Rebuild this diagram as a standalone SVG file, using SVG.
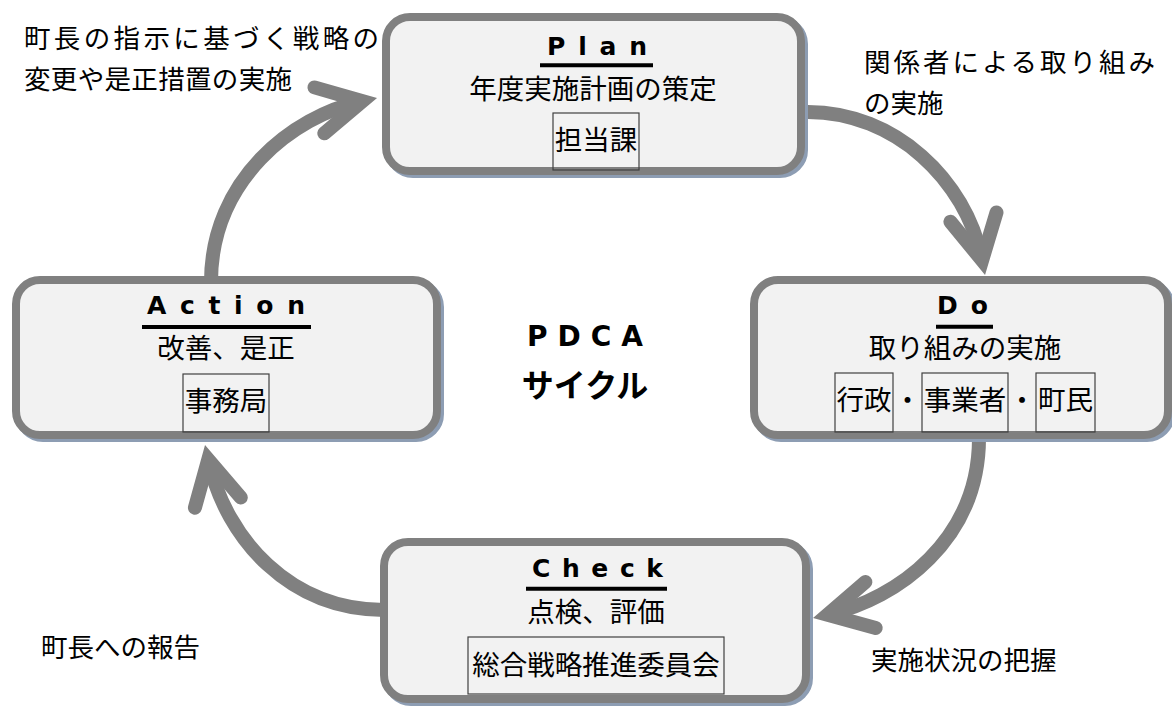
<svg xmlns="http://www.w3.org/2000/svg" width="1172" height="706" viewBox="0 0 1172 706">
<style>
text{font-family:"Noto Sans CJK JP","Liberation Sans",sans-serif;fill:#000;}
.box{fill:#f2f2f2;stroke:#808080;stroke-width:8;}
.shadow{fill:none;stroke:#8d9db3;stroke-width:8;}
.inner{fill:none;stroke:#404040;stroke-width:1.2;}
.title{font-family:"DejaVu Sans","Noto Sans CJK JP",sans-serif;font-size:25px;font-weight:bold;text-anchor:middle;}
.sub{font-size:27.5px;text-anchor:middle;}
.lbl{font-size:26.5px;}
.ul{stroke:#000;stroke-width:4;}
.arrow{fill:none;stroke:#808080;stroke-width:14;marker-end:url(#chev);}
.center{font-size:28px;font-weight:bold;text-anchor:middle;}
.latin{font-family:"DejaVu Sans","Noto Sans CJK JP",sans-serif;}
.big{font-size:32px;}
</style>
<defs>
<marker id="chev" markerUnits="userSpaceOnUse" markerWidth="120" markerHeight="120" refX="0" refY="0" orient="auto" overflow="visible">
<path d="M -43 -23.5 L 1.1 0 L -43 23.5" fill="none" stroke="#808080" stroke-width="14" stroke-linecap="round" stroke-linejoin="miter" stroke-miterlimit="6"/>
</marker>
</defs>
<rect width="1172" height="706" fill="#ffffff"/>
<g id="connectors">
<path class="arrow" d="M 808 112 C 895 112, 966 180, 981.9 259.3"/>
<path class="arrow" d="M 979 438 C 979 540, 897 599, 828.6 614.4"/>
<path class="arrow" d="M 384 610 C 290 610, 226 539, 208.5 460.6"/>
<path class="arrow" d="M 211 282 C 211 180, 293 116, 361.4 101.4"/>
</g>
<g id="plan">
<rect class="shadow" x="389" y="20" width="415" height="154" rx="24"/>
<rect class="box" x="386" y="17" width="415" height="154" rx="24"/>
<text class="title" x="597" y="55" textLength="100" lengthAdjust="spacing">Plan</text>
<line class="ul" x1="540" y1="65.3" x2="653" y2="65.3"/>
<text class="sub" x="593" y="99">年度実施計画の策定</text>
<rect class="inner" x="553" y="113" width="86" height="57"/>
<text class="sub" x="596" y="150">担当課</text>
</g>
<g id="do">
<rect class="shadow" x="757" y="283" width="414" height="155" rx="24"/>
<rect class="box" x="754" y="280" width="414" height="155" rx="24"/>
<text class="title" x="962.5" y="314" textLength="51" lengthAdjust="spacing">Do</text>
<line class="ul" x1="936" y1="326.7" x2="993" y2="326.7"/>
<text class="sub" x="965" y="358">取り組みの実施</text>
<rect class="inner" x="835" y="373" width="58" height="59"/>
<text class="sub" x="864" y="410">行政</text>
<text class="sub" x="907.5" y="410">・</text>
<rect class="inner" x="922" y="373" width="86" height="59"/>
<text class="sub" x="965" y="410">事業者</text>
<text class="sub" x="1022" y="410">・</text>
<rect class="inner" x="1036" y="373" width="59" height="59"/>
<text class="sub" x="1065.5" y="410">町民</text>
</g>
<g id="check">
<rect class="shadow" x="387" y="545" width="422" height="157" rx="24"/>
<rect class="box" x="384" y="542" width="422" height="157" rx="24"/>
<text class="title" x="597.5" y="577" textLength="131" lengthAdjust="spacing">Check</text>
<line class="ul" x1="526" y1="588.8" x2="667" y2="588.8"/>
<text class="sub" x="596" y="621.5">点検、評価</text>
<rect class="inner" x="468" y="637" width="256" height="57"/>
<text class="sub" x="596" y="675">総合戦略推進委員会</text>
</g>
<g id="action">
<rect class="shadow" x="19" y="283" width="421" height="155" rx="24"/>
<rect class="box" x="16" y="280" width="421" height="155" rx="24"/>
<text class="title" x="226" y="314" textLength="158" lengthAdjust="spacing">Action</text>
<line class="ul" x1="142" y1="327" x2="311" y2="327"/>
<text class="sub" x="226" y="358">改善、是正</text>
<rect class="inner" x="183" y="374" width="86" height="58"/>
<text class="sub" x="226" y="411">事務局</text>
</g>
<g id="center-label">
<text class="center latin" x="585" y="346" textLength="116" lengthAdjust="spacing">PDCA</text>
<text class="center big" x="585" y="397">サイクル</text>
</g>
<g id="labels">
<text class="lbl" x="24" y="48" textLength="355" lengthAdjust="spacing">町長の指示に基づく戦略の</text>
<text class="lbl" x="24" y="89" textLength="268" lengthAdjust="spacing">変更や是正措置の実施</text>
<text class="lbl" x="864" y="72" textLength="291" lengthAdjust="spacing">関係者による取り組み</text>
<text class="lbl" x="864" y="113">の実施</text>
<text class="lbl" x="41" y="657">町長への報告</text>
<text class="lbl" x="871" y="670">実施状況の把握</text>
</g>
</svg>
